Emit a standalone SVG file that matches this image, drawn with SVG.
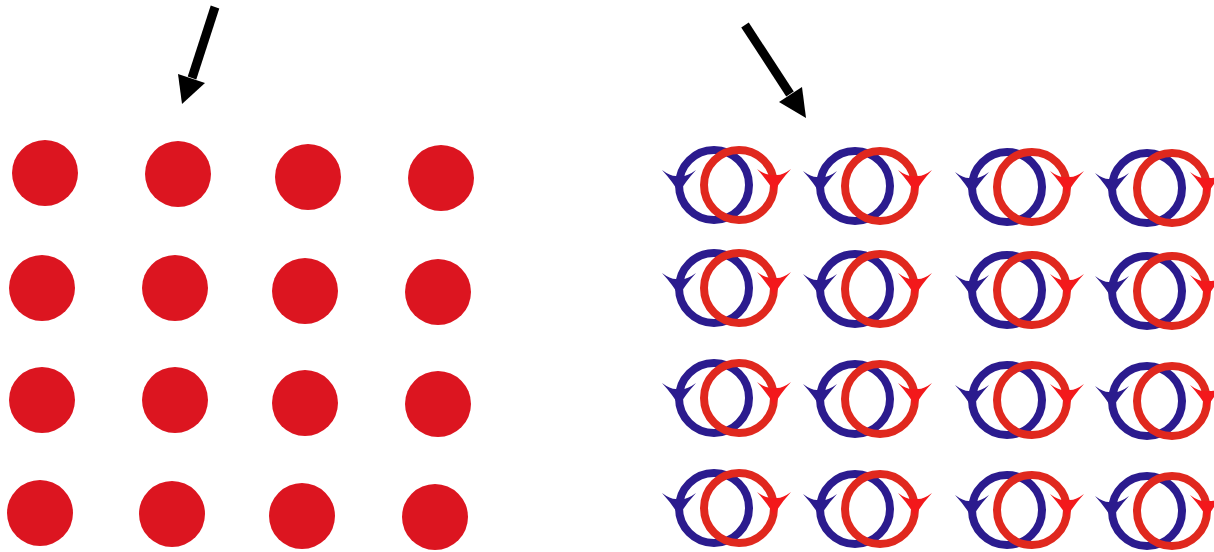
<svg xmlns="http://www.w3.org/2000/svg" xmlns:xlink="http://www.w3.org/1999/xlink" width="1214" height="552" viewBox="0 0 1214 552">
  <style>
    .dot { fill: #dc1520; }
    .bring { fill: none; stroke: #2b1b8e; stroke-width: 8; }
    .rring { fill: none; stroke: #e0281e; stroke-width: 8; }
    .bhead { fill: #2b1b8e; }
    .rhead { fill: #f3181b; }
    .shaft { stroke: #000; stroke-width: 9; }
    .ahead { fill: #000; }
  </style>
  <defs>
    <path id="barb" d="M0,0 Q-6,-11 -17,-23 Q-9,-17 -3,-17 L3,-17 Q9,-17 17,-23 Q6,-11 0,0 Z"/>
    <g id="pair">
      <ellipse class="bring" cx="0" cy="0" rx="35" ry="35"/>
      <use xlink:href="#barb" class="bhead" x="-35" y="8"/>
      <ellipse class="rring" cx="25" cy="0" rx="35" ry="35"/>
      <use xlink:href="#barb" class="rhead" x="60" y="7"/>
    </g>
  </defs>
  <rect width="1214" height="552" fill="#fff"/>
  <g id="dots">
    <circle class="dot" cx="45" cy="173" r="33"/>
    <circle class="dot" cx="178" cy="174" r="33"/>
    <circle class="dot" cx="308" cy="177" r="33"/>
    <circle class="dot" cx="441" cy="178" r="33"/>
    <circle class="dot" cx="42" cy="288" r="33"/>
    <circle class="dot" cx="175" cy="288" r="33"/>
    <circle class="dot" cx="305" cy="291" r="33"/>
    <circle class="dot" cx="438" cy="292" r="33"/>
    <circle class="dot" cx="42" cy="400" r="33"/>
    <circle class="dot" cx="175" cy="400" r="33"/>
    <circle class="dot" cx="305" cy="403" r="33"/>
    <circle class="dot" cx="438" cy="404" r="33"/>
    <circle class="dot" cx="40" cy="513" r="33"/>
    <circle class="dot" cx="172" cy="514" r="33"/>
    <circle class="dot" cx="302" cy="516" r="33"/>
    <circle class="dot" cx="435" cy="517" r="33"/>
  </g>
  <g id="vortices">
    <use xlink:href="#pair" x="714" y="185"/>
    <use xlink:href="#pair" x="855" y="186"/>
    <use xlink:href="#pair" x="1007" y="187"/>
    <use xlink:href="#pair" x="1147" y="188"/>
    <use xlink:href="#pair" x="714" y="288"/>
    <use xlink:href="#pair" x="855" y="289"/>
    <use xlink:href="#pair" x="1007" y="290"/>
    <use xlink:href="#pair" x="1147" y="291"/>
    <use xlink:href="#pair" x="714" y="398"/>
    <use xlink:href="#pair" x="855" y="399"/>
    <use xlink:href="#pair" x="1007" y="400"/>
    <use xlink:href="#pair" x="1147" y="401"/>
    <use xlink:href="#pair" x="714" y="508"/>
    <use xlink:href="#pair" x="855" y="509"/>
    <use xlink:href="#pair" x="1007" y="510"/>
    <use xlink:href="#pair" x="1147" y="511"/>
  </g>
  <g id="connectors">
    <line class="shaft" x1="215" y1="7" x2="192" y2="78"/>
    <polygon class="ahead" points="178,74 205,83 182,104"/>
    <line class="shaft" x1="745" y1="25" x2="790" y2="94"/>
    <polygon class="ahead" points="779,102 802,87 806,118"/>
  </g>
</svg>
